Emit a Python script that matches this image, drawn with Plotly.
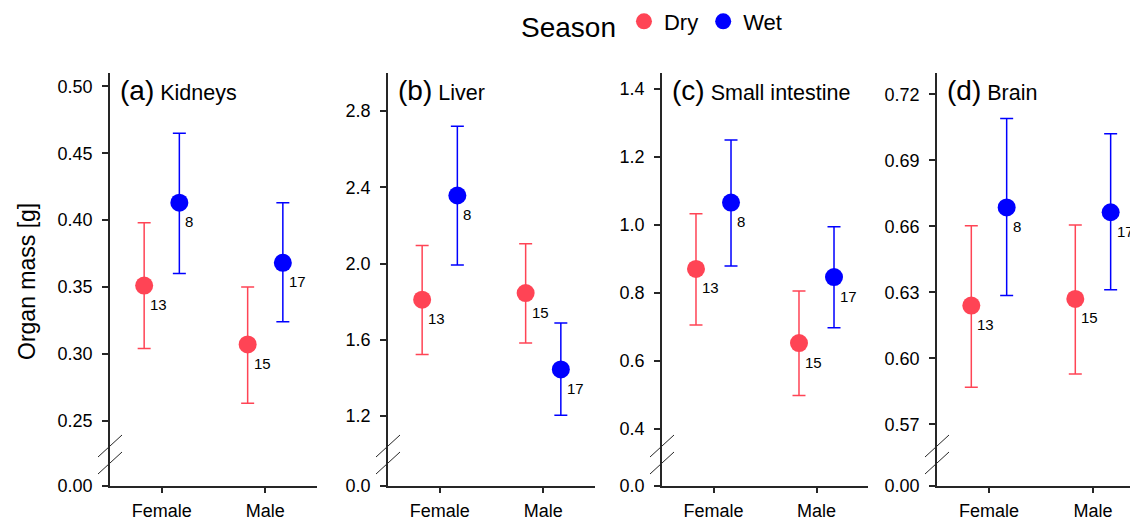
import plotly.graph_objects as go

# ---------------- data ----------------
sexes = ["Female", "Male"]
seasons = ["Dry", "Wet"]
panel_titles = ["(a)", "(b)", "(c)", "(d)"]
organs = ["Kidneys", "Liver", "Small intestine", "Brain"]

# values ordered [Female, Male]
kidneys_dry_mean = [0.351, 0.307]
kidneys_dry_upper = [0.398, 0.350]
kidneys_dry_lower = [0.304, 0.263]
kidneys_wet_mean = [0.413, 0.368]
kidneys_wet_upper = [0.465, 0.413]
kidneys_wet_lower = [0.360, 0.324]

liver_dry_mean = [1.81, 1.845]
liver_dry_upper = [2.095, 2.104]
liver_dry_lower = [1.522, 1.583]
liver_wet_mean = [2.357, 1.444]
liver_wet_upper = [2.72, 1.688]
liver_wet_lower = [1.992, 1.203]

intestine_dry_mean = [0.871, 0.653]
intestine_dry_upper = [1.033, 0.806]
intestine_dry_lower = [0.706, 0.499]
intestine_wet_mean = [1.066, 0.847]
intestine_wet_upper = [1.250, 0.995]
intestine_wet_lower = [0.880, 0.698]

brain_dry_mean = [0.624, 0.627]
brain_dry_upper = [0.6603, 0.6606]
brain_dry_lower = [0.5868, 0.5929]
brain_wet_mean = [0.6686, 0.6664]
brain_wet_upper = [0.709, 0.7021]
brain_wet_lower = [0.6285, 0.6312]

n_dry = [13, 15]
n_wet = [8, 17]

# axis ticks / ranges
ticks_a = [0.25, 0.30, 0.35, 0.40, 0.45, 0.50]
ticks_b = [1.2, 1.6, 2.0, 2.4, 2.8]
ticks_c = [0.4, 0.6, 0.8, 1.0, 1.2, 1.4]
ticks_d = [0.57, 0.60, 0.63, 0.66, 0.69, 0.72]
ranges_main = [[0.225, 0.51], [1.0, 3.0], [0.327, 1.447], [0.5565, 0.7297]]
tick_formats = [".2f", ".1f", ".1f", ".2f"]

# ---------------- layout constants ----------------
PAGE = 8                      # default body margin of the html page
W, H = 1138 - PAGE, 522 - PAGE
FONT = "Liberation Sans, Arial, Helvetica, sans-serif"
RED = "#FF4455"
BLUE = "#0000FF"
AXC = "#262626"

panel_left = [110, 388, 662, 937]
panel_right = [317, 595, 868, 1138]
x_ranges = [[-0.5, 1.5], [-0.5, 1.5], [-0.5, 1.5], [-0.5, 1.433]]
y_top, y_break, y_bottom = 73, 454, 485.7
offset = 0.17


def fx(p):
    return (p - PAGE) / W


def fy(p):
    return 1 - (p - PAGE) / H


panels = [
    (kidneys_dry_mean, kidneys_dry_upper, kidneys_dry_lower,
     kidneys_wet_mean, kidneys_wet_upper, kidneys_wet_lower, ticks_a),
    (liver_dry_mean, liver_dry_upper, liver_dry_lower,
     liver_wet_mean, liver_wet_upper, liver_wet_lower, ticks_b),
    (intestine_dry_mean, intestine_dry_upper, intestine_dry_lower,
     intestine_wet_mean, intestine_wet_upper, intestine_wet_lower, ticks_c),
    (brain_dry_mean, brain_dry_upper, brain_dry_lower,
     brain_wet_mean, brain_wet_upper, brain_wet_lower, ticks_d),
]

fig = go.Figure()
annotations = []
shapes = []
layout_axes = {}

common_axis = dict(showline=True, linecolor=AXC, linewidth=1.5,
                   ticks="outside", ticklen=6, tickwidth=1.5, tickcolor=AXC,
                   showgrid=False, zeroline=False, automargin=False)

for i, (dm, du, dl, wm, wu, wl, ticks) in enumerate(panels):
    k = i + 1
    xa = "x" if k == 1 else f"x{k}"
    ya = "y" if k == 1 else f"y{k}"
    yb = f"y{k + 4}"
    series = [("Dry", dm, du, dl, RED, -offset, n_dry),
              ("Wet", wm, wu, wl, BLUE, offset, n_wet)]
    for name, m, u, l, col, off, ns in series:
        xs = [j + off for j in range(len(sexes))]
        fig.add_trace(go.Scatter(
            x=xs, y=m, mode="markers", name=name, legendgroup=name,
            showlegend=(k == 1), xaxis=xa, yaxis=ya,
            marker=dict(size=18, color=col),
            error_y=dict(type="data", symmetric=False,
                         array=[uu - mm for uu, mm in zip(u, m)],
                         arrayminus=[mm - ll for mm, ll in zip(m, l)],
                         color=col, thickness=1.5, width=6.5),
            hoverinfo="skip"))
        for xv, yv, nv in zip(xs, m, ns):
            annotations.append(dict(
                x=xv, y=yv, xref=xa, yref=ya, text=str(nv), showarrow=False,
                xanchor="left", yanchor="middle", xshift=4, yshift=-19,
                font=dict(size=15, color="black", family=FONT)))
    # empty trace so that the lower (zero) axis segment forms a subplot
    fig.add_trace(go.Scatter(x=[], y=[], xaxis=xa, yaxis=yb,
                             showlegend=False, hoverinfo="skip"))

    xdom = [fx(panel_left[i]), min(1.0, fx(panel_right[i]))]
    layout_axes[f"xaxis{'' if k == 1 else k}"] = dict(
        domain=xdom, range=x_ranges[i], anchor=yb,
        tickvals=list(range(len(sexes))), ticktext=sexes,
        ticklabelstandoff=2,
        tickfont=dict(size=18, family=FONT, color="black"), **common_axis)
    layout_axes[f"yaxis{'' if k == 1 else k}"] = dict(
        domain=[fy(y_break), fy(y_top)], range=ranges_main[i], anchor=xa,
        tickvals=ticks, tickformat=tick_formats[i], ticklabelstandoff=6,
        tickfont=dict(size=18, family=FONT, color="black"), **common_axis)
    layout_axes[f"yaxis{k + 4}"] = dict(
        domain=[fy(y_bottom), fy(y_break)], range=[0, 1], anchor=xa,
        tickvals=[0], tickformat=tick_formats[i], ticklabelstandoff=6,
        tickfont=dict(size=18, family=FONT, color="black"), **common_axis)

    # panel title
    annotations.append(dict(
        x=fx(panel_left[i] + 8), y=fy(91), xref="paper", yref="paper",
        xanchor="left", yanchor="middle", showarrow=False,
        text=f"<span style='font-size:28px'>{panel_titles[i]}</span> {organs[i]}",
        font=dict(size=21.5, family=FONT, color="black")))

    # axis-break slashes
    ax = panel_left[i]
    for yc in (446, 463):
        shapes.append(dict(type="line", xref="paper", yref="paper",
                           x0=fx(ax - 12), y0=fy(yc + 11),
                           x1=fx(ax + 12), y1=fy(yc - 11),
                           line=dict(color=AXC, width=1)))

annotations.append(dict(
    x=fx(27), y=fy(282), xref="paper", yref="paper", text="Organ mass [g]",
    textangle=-90, showarrow=False, xanchor="center", yanchor="middle",
    font=dict(size=23, family=FONT, color="black")))

fig.update_layout(
    width=W, height=H, autosize=False,
    margin=dict(l=0, r=0, t=0, b=0, autoexpand=False),
    paper_bgcolor="white", plot_bgcolor="white",
    font=dict(family=FONT, color="black"),
    annotations=annotations, shapes=shapes,
    legend=dict(orientation="h", x=fx(519), xanchor="left",
                y=fy(24), yanchor="middle",
                title=dict(text="Season", side="left",
                           font=dict(size=28, family=FONT, color="black")),
                font=dict(size=22, family=FONT, color="black"),
                bgcolor="rgba(0,0,0,0)", itemwidth=30),
    **layout_axes)

fig.write_html("out.html")
